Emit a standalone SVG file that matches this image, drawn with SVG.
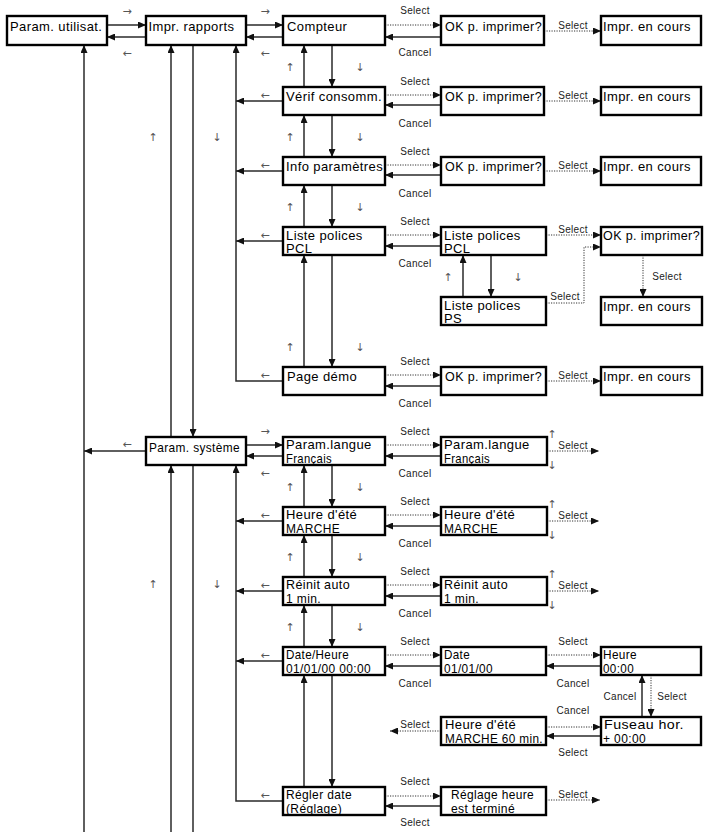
<svg xmlns="http://www.w3.org/2000/svg" width="704" height="832" viewBox="0 0 704 832">
<style>
.bx{fill:#fff;stroke:#000;stroke-width:2.4}
.t{font-family:"Liberation Sans",Arial,sans-serif;font-size:13px;letter-spacing:0.4px;fill:#000}
.s{font-family:"Liberation Sans",Arial,sans-serif;font-size:10px;letter-spacing:0.3px;fill:#222;text-anchor:middle}
.a{font-family:"DejaVu Sans",sans-serif;font-size:11px;fill:#555;text-anchor:middle}
.ln{stroke:#2a2a2a;stroke-width:1.5;fill:none}
.dt{stroke:#333;stroke-width:1;stroke-dasharray:1.2 1.3;fill:none}
.ah{marker-end:url(#ah)}
</style>
<defs>
<marker id="ah" viewBox="0 0 8 7" refX="8" refY="3.5" markerWidth="8" markerHeight="7" markerUnits="userSpaceOnUse" orient="auto">
<path d="M0,0 L8,3.5 L0,7 z" fill="#111"/>
</marker>
</defs>

<g id="connectors">
<line class="ln ah" x1="107" y1="25" x2="146" y2="25"/>
<line class="ln ah" x1="146" y1="37" x2="107" y2="37"/>
<line class="ln ah" x1="246" y1="25" x2="283" y2="25"/>
<line class="ln ah" x1="283" y1="37" x2="246" y2="37"/>
<line class="dt ah" x1="385" y1="25" x2="441" y2="25"/>
<line class="ln ah" x1="441" y1="37" x2="385" y2="37"/>
<line class="dt ah" x1="385" y1="95" x2="441" y2="95"/>
<line class="ln ah" x1="441" y1="105" x2="385" y2="105"/>
<line class="dt ah" x1="385" y1="165" x2="441" y2="165"/>
<line class="ln ah" x1="441" y1="175" x2="385" y2="175"/>
<line class="dt ah" x1="385" y1="235" x2="441" y2="235"/>
<line class="ln ah" x1="441" y1="246" x2="385" y2="246"/>
<line class="dt ah" x1="385" y1="375" x2="441" y2="375"/>
<line class="ln ah" x1="441" y1="386" x2="385" y2="386"/>
<line class="dt ah" x1="544" y1="31" x2="601" y2="31"/>
<line class="dt ah" x1="544" y1="101" x2="601" y2="101"/>
<line class="dt ah" x1="544" y1="171" x2="601" y2="171"/>
<line class="dt ah" x1="546" y1="235" x2="601" y2="235"/>
<polyline class="dt ah" points="546,303 584,303 584,247 601,247"/>
<line class="dt ah" x1="643" y1="255" x2="643" y2="297"/>
<line class="ln ah" x1="463" y1="297" x2="463" y2="255"/>
<line class="ln ah" x1="491" y1="255" x2="491" y2="297"/>
<line class="dt ah" x1="546" y1="381" x2="601" y2="381"/>
<line class="ln ah" x1="304" y1="87" x2="304" y2="45"/>
<line class="ln ah" x1="332" y1="45" x2="332" y2="87"/>
<line class="ln ah" x1="304" y1="157" x2="304" y2="115"/>
<line class="ln ah" x1="332" y1="115" x2="332" y2="157"/>
<line class="ln ah" x1="304" y1="227" x2="304" y2="185"/>
<line class="ln ah" x1="332" y1="185" x2="332" y2="227"/>
<line class="ln ah" x1="304" y1="367" x2="304" y2="255"/>
<line class="ln ah" x1="332" y1="255" x2="332" y2="367"/>
<line class="ln ah" x1="304" y1="507" x2="304" y2="465"/>
<line class="ln ah" x1="332" y1="465" x2="332" y2="507"/>
<line class="ln ah" x1="304" y1="577" x2="304" y2="535"/>
<line class="ln ah" x1="332" y1="535" x2="332" y2="577"/>
<line class="ln ah" x1="304" y1="647" x2="304" y2="605"/>
<line class="ln ah" x1="332" y1="605" x2="332" y2="647"/>
<line class="ln ah" x1="304" y1="787" x2="304" y2="675"/>
<line class="ln ah" x1="332" y1="675" x2="332" y2="787"/>
<line class="ln ah" x1="84" y1="832" x2="84" y2="45"/>
<line class="ln ah" x1="171" y1="437" x2="171" y2="45"/>
<line class="ln ah" x1="193" y1="45" x2="193" y2="437"/>
<line class="ln ah" x1="171" y1="832" x2="171" y2="465"/>
<line class="ln" x1="193" y1="465" x2="193" y2="832"/>
<polyline class="ln ah" points="283,381 236,381 236,45"/>
<polyline class="ln ah" points="283,801 236,801 236,465"/>
<line class="ln ah" x1="283" y1="101" x2="236" y2="101"/>
<line class="ln ah" x1="283" y1="171" x2="236" y2="171"/>
<line class="ln ah" x1="283" y1="241" x2="236" y2="241"/>
<line class="ln ah" x1="283" y1="521" x2="236" y2="521"/>
<line class="ln ah" x1="283" y1="591" x2="236" y2="591"/>
<line class="ln ah" x1="283" y1="661" x2="236" y2="661"/>
<line class="ln ah" x1="146" y1="451" x2="84" y2="451"/>
<line class="ln ah" x1="246" y1="445" x2="283" y2="445"/>
<line class="ln ah" x1="283" y1="456" x2="246" y2="456"/>
<line class="dt ah" x1="385" y1="445" x2="441" y2="445"/>
<line class="ln ah" x1="441" y1="456" x2="385" y2="456"/>
<line class="dt ah" x1="547" y1="451" x2="599" y2="451"/>
<line class="dt ah" x1="385" y1="515" x2="441" y2="515"/>
<line class="ln ah" x1="441" y1="526" x2="385" y2="526"/>
<line class="dt ah" x1="547" y1="521" x2="599" y2="521"/>
<line class="dt ah" x1="385" y1="585" x2="441" y2="585"/>
<line class="ln ah" x1="441" y1="596" x2="385" y2="596"/>
<line class="dt ah" x1="547" y1="591" x2="599" y2="591"/>
<line class="dt ah" x1="385" y1="655" x2="441" y2="655"/>
<line class="ln ah" x1="441" y1="666" x2="385" y2="666"/>
<line class="dt ah" x1="546" y1="655" x2="601" y2="655"/>
<line class="ln ah" x1="601" y1="666" x2="546" y2="666"/>
<line class="ln ah" x1="642" y1="717" x2="642" y2="675"/>
<line class="dt ah" x1="651" y1="675" x2="651" y2="717"/>
<line class="dt ah" x1="546" y1="727" x2="601" y2="727"/>
<line class="ln ah" x1="601" y1="736" x2="546" y2="736"/>
<line class="dt ah" x1="441" y1="731" x2="390" y2="731"/>
<line class="dt ah" x1="385" y1="796" x2="441" y2="796"/>
<line class="ln ah" x1="441" y1="806" x2="385" y2="806"/>
<line class="dt ah" x1="546" y1="800" x2="600" y2="800"/>
</g>

<g id="labels">
<text class="a" x="127" y="15">→</text>
<text class="a" x="127" y="57">←</text>
<text class="a" x="265" y="15">→</text>
<text class="a" x="265" y="57">←</text>
<text class="a" x="265" y="99">←</text>
<text class="a" x="265" y="169">←</text>
<text class="a" x="265" y="239">←</text>
<text class="a" x="265" y="379">←</text>
<text class="a" x="290" y="71">↑</text><text class="a" x="360" y="71">↓</text>
<text class="a" x="290" y="141">↑</text><text class="a" x="360" y="141">↓</text>
<text class="a" x="290" y="211">↑</text><text class="a" x="360" y="211">↓</text>
<text class="a" x="290" y="351">↑</text><text class="a" x="360" y="351">↓</text>
<text class="a" x="153" y="141">↑</text><text class="a" x="217" y="141">↓</text>
<text class="a" x="448" y="281">↑</text><text class="a" x="518" y="281">↓</text>
<text class="a" x="127" y="448">←</text>
<text class="a" x="265" y="435">→</text>
<text class="a" x="265" y="477">←</text>
<text class="a" x="265" y="519">←</text>
<text class="a" x="265" y="589">←</text>
<text class="a" x="265" y="659">←</text>
<text class="a" x="265" y="799">←</text>
<text class="a" x="290" y="491">↑</text><text class="a" x="360" y="491">↓</text>
<text class="a" x="290" y="561">↑</text><text class="a" x="360" y="561">↓</text>
<text class="a" x="290" y="631">↑</text><text class="a" x="360" y="631">↓</text>
<text class="a" x="153" y="588">↑</text><text class="a" x="217" y="588">↓</text>
<text class="a" x="552" y="438">↑</text><text class="a" x="552" y="469">↓</text>
<text class="a" x="552" y="508">↑</text><text class="a" x="552" y="539">↓</text>
<text class="a" x="552" y="578">↑</text><text class="a" x="552" y="609">↓</text>

<text class="s" x="415" y="14">Select</text><text class="s" x="415" y="56">Cancel</text>
<text class="s" x="415" y="85">Select</text><text class="s" x="415" y="127">Cancel</text>
<text class="s" x="415" y="155">Select</text><text class="s" x="415" y="197">Cancel</text>
<text class="s" x="415" y="225">Select</text><text class="s" x="415" y="267">Cancel</text>
<text class="s" x="415" y="365">Select</text><text class="s" x="415" y="407">Cancel</text>
<text class="s" x="573" y="29">Select</text>
<text class="s" x="573" y="99">Select</text>
<text class="s" x="573" y="169">Select</text>
<text class="s" x="573" y="233">Select</text>
<text class="s" x="565" y="300">Select</text>
<text class="s" x="667" y="280">Select</text>
<text class="s" x="573" y="379">Select</text>
<text class="s" x="415" y="435">Select</text><text class="s" x="415" y="477">Cancel</text>
<text class="s" x="415" y="505">Select</text><text class="s" x="415" y="547">Cancel</text>
<text class="s" x="415" y="575">Select</text><text class="s" x="415" y="617">Cancel</text>
<text class="s" x="573" y="449">Select</text>
<text class="s" x="573" y="519">Select</text>
<text class="s" x="573" y="589">Select</text>
<text class="s" x="415" y="645">Select</text><text class="s" x="415" y="687">Cancel</text>
<text class="s" x="573" y="645">Select</text><text class="s" x="573" y="687">Cancel</text>
<text class="s" x="620" y="700">Cancel</text><text class="s" x="672" y="700">Select</text>
<text class="s" x="573" y="714">Cancel</text><text class="s" x="573" y="756">Select</text>
<text class="s" x="415" y="728">Select</text>
<text class="s" x="415" y="785">Select</text><text class="s" x="415" y="826">Select</text>
<text class="s" x="573" y="798">Select</text>
</g>

<g id="n-param-utilisat"><rect class="bx" x="7" y="16" width="100" height="29"/><text class="t" x="10" y="30.5">Param. utilisat.</text></g>
<g id="n-impr-rapports"><rect class="bx" x="146" y="16" width="100" height="29"/><text class="t" x="148.5" y="30.5">Impr. rapports</text></g>
<g id="n-compteur"><rect class="bx" x="283" y="16" width="102" height="29"/><text class="t" x="287" y="30.5">Compteur</text></g>
<g id="n-verif"><rect class="bx" x="283" y="87" width="102" height="28"/><text class="t" x="286" y="101">Vérif consomm.</text></g>
<g id="n-info"><rect class="bx" x="283" y="157" width="102" height="28"/><text class="t" x="286" y="171">Info paramètres</text></g>
<g id="n-liste-pcl"><rect class="bx" x="283" y="227" width="102" height="28"/><text class="t" x="286" y="239.5">Liste polices</text><text class="t" x="286" y="253">PCL</text></g>
<g id="n-page-demo"><rect class="bx" x="283" y="367" width="102" height="28"/><text class="t" x="287" y="380.5">Page démo</text></g>

<g id="n-ok1"><rect class="bx" x="441" y="16" width="103" height="29"/><text class="t" x="445" y="30.5" textLength="97" lengthAdjust="spacingAndGlyphs">OK p. imprimer?</text></g>
<g id="n-ok2"><rect class="bx" x="441" y="87" width="103" height="28"/><text class="t" x="445" y="101" textLength="97" lengthAdjust="spacingAndGlyphs">OK p. imprimer?</text></g>
<g id="n-ok3"><rect class="bx" x="441" y="157" width="103" height="28"/><text class="t" x="445" y="171" textLength="97" lengthAdjust="spacingAndGlyphs">OK p. imprimer?</text></g>
<g id="n-liste-pcl-sub"><rect class="bx" x="441" y="227" width="105" height="28"/><text class="t" x="444" y="239.5">Liste polices</text><text class="t" x="444" y="253">PCL</text></g>
<g id="n-liste-ps"><rect class="bx" x="441" y="297" width="105" height="28"/><text class="t" x="444" y="309.5">Liste polices</text><text class="t" x="444" y="323">PS</text></g>
<g id="n-ok5"><rect class="bx" x="441" y="367" width="105" height="28"/><text class="t" x="445" y="380.5" textLength="97" lengthAdjust="spacingAndGlyphs">OK p. imprimer?</text></g>

<g id="n-impr1"><rect class="bx" x="601" y="16" width="100" height="29"/><text class="t" x="603" y="30.5">Impr. en cours</text></g>
<g id="n-impr2"><rect class="bx" x="601" y="87" width="100" height="28"/><text class="t" x="603" y="101">Impr. en cours</text></g>
<g id="n-impr3"><rect class="bx" x="601" y="157" width="100" height="28"/><text class="t" x="603" y="171">Impr. en cours</text></g>
<g id="n-ok4"><rect class="bx" x="601" y="227" width="101" height="28"/><text class="t" x="603" y="240" textLength="97" lengthAdjust="spacingAndGlyphs">OK p. imprimer?</text></g>
<g id="n-impr4"><rect class="bx" x="601" y="297" width="101" height="28"/><text class="t" x="603" y="311">Impr. en cours</text></g>
<g id="n-impr5"><rect class="bx" x="601" y="367" width="101" height="28"/><text class="t" x="603" y="380.5">Impr. en cours</text></g>

<g id="n-param-systeme"><rect class="bx" x="146" y="437" width="100" height="28"/><text class="t" x="149" y="452" textLength="91" lengthAdjust="spacingAndGlyphs">Param. système</text></g>
<g id="n-langue"><rect class="bx" x="283" y="437" width="102" height="28"/><text class="t" x="286" y="449">Param.langue</text><text class="t" x="286" y="462.5" textLength="46" lengthAdjust="spacingAndGlyphs">Français</text></g>
<g id="n-heure-ete"><rect class="bx" x="283" y="507" width="102" height="28"/><text class="t" x="286" y="519">Heure d'été</text><text class="t" x="286" y="532.5" textLength="54" lengthAdjust="spacingAndGlyphs">MARCHE</text></g>
<g id="n-reinit"><rect class="bx" x="283" y="577" width="102" height="28"/><text class="t" x="286" y="589" textLength="64" lengthAdjust="spacingAndGlyphs">Réinit auto</text><text class="t" x="286" y="602.5" textLength="35" lengthAdjust="spacingAndGlyphs">1 min.</text></g>
<g id="n-date-heure"><rect class="bx" x="283" y="647" width="102" height="28"/><text class="t" x="286" y="659" textLength="63" lengthAdjust="spacingAndGlyphs">Date/Heure</text><text class="t" x="286" y="672.5" textLength="85" lengthAdjust="spacingAndGlyphs">01/01/00 00:00</text></g>
<g id="n-regler"><rect class="bx" x="283" y="787" width="102" height="28"/><text class="t" x="286" y="799" textLength="66" lengthAdjust="spacingAndGlyphs">Régler date</text><text class="t" x="286" y="812.5" textLength="56" lengthAdjust="spacingAndGlyphs">(Réglage)</text></g>

<g id="n-langue-sub"><rect class="bx" x="441" y="437" width="106" height="28"/><text class="t" x="444" y="449">Param.langue</text><text class="t" x="444" y="462.5" textLength="46" lengthAdjust="spacingAndGlyphs">Français</text></g>
<g id="n-heure-ete-sub"><rect class="bx" x="441" y="507" width="106" height="28"/><text class="t" x="444" y="519">Heure d'été</text><text class="t" x="444" y="532.5" textLength="54" lengthAdjust="spacingAndGlyphs">MARCHE</text></g>
<g id="n-reinit-sub"><rect class="bx" x="441" y="577" width="106" height="28"/><text class="t" x="444" y="589" textLength="64" lengthAdjust="spacingAndGlyphs">Réinit auto</text><text class="t" x="444" y="602.5" textLength="35" lengthAdjust="spacingAndGlyphs">1 min.</text></g>
<g id="n-date"><rect class="bx" x="441" y="647" width="105" height="28"/><text class="t" x="444" y="659" textLength="26" lengthAdjust="spacingAndGlyphs">Date</text><text class="t" x="444" y="672.5" textLength="49" lengthAdjust="spacingAndGlyphs">01/01/00</text></g>
<g id="n-heure-ete-60"><rect class="bx" x="441" y="717" width="105" height="28"/><text class="t" x="445" y="729">Heure d'été</text><text class="t" x="445" y="742.5" textLength="98" lengthAdjust="spacingAndGlyphs">MARCHE 60 min.</text></g>
<g id="n-reglage-termine"><rect class="bx" x="441" y="787" width="105" height="28"/><text class="t" x="451" y="799" textLength="83" lengthAdjust="spacingAndGlyphs">Réglage heure</text><text class="t" x="451" y="812.5" textLength="64" lengthAdjust="spacingAndGlyphs">est terminé</text></g>
<g id="n-heure"><rect class="bx" x="601" y="647" width="100" height="28"/><text class="t" x="603" y="659" textLength="34" lengthAdjust="spacingAndGlyphs">Heure</text><text class="t" x="603" y="672.5" textLength="31" lengthAdjust="spacingAndGlyphs">00:00</text></g>
<g id="n-fuseau"><rect class="bx" x="601" y="717" width="100" height="28"/><text class="t" x="604" y="729" textLength="80" lengthAdjust="spacingAndGlyphs">Fuseau hor.</text><text class="t" x="603" y="742.5" textLength="43" lengthAdjust="spacingAndGlyphs">+ 00:00</text></g>
</svg>
